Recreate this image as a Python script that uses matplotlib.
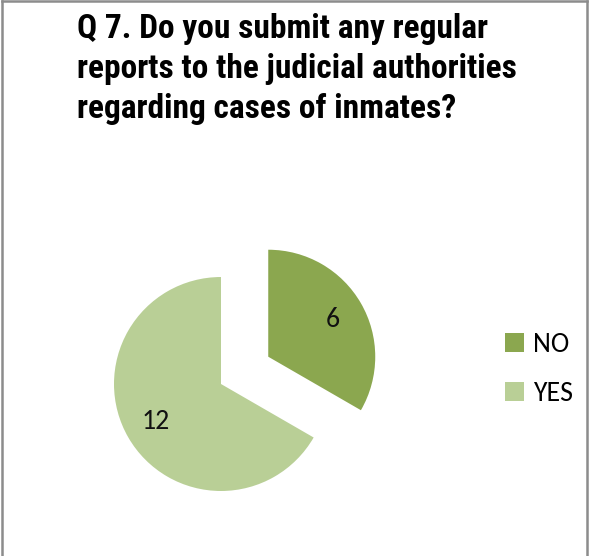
import matplotlib.pyplot as plt
from matplotlib.lines import Line2D
from matplotlib.patches import Patch

labels = ["NO", "YES"]
counts = [6, 12]
colors = ["#8ba74f", "#b9cf96"]
explode = [0.51, 0]

fig = plt.figure(figsize=(5.89, 5.56), dpi=100)

# thin grey frame round the chart area (left, top, right)
fig.add_artist(Line2D([0.003, 0.003], [0, 0.998], color="#8c8c8c", lw=1.8, transform=fig.transFigure))
fig.add_artist(Line2D([0.003, 0.996], [0.998, 0.998], color="#8c8c8c", lw=1.8, transform=fig.transFigure))
fig.add_artist(Line2D([0.996, 0.996], [0, 0.998], color="#8c8c8c", lw=1.8, transform=fig.transFigure))

fig.text(0.131, 0.977, "Q 7. Do you submit any regular\nreports to the judicial authorities\nregarding cases of inmates?",
         ha="left", va="top", fontsize=24, fontweight="bold",
         family=["Roboto Condensed", "DejaVu Sans"], linespacing=1.32)

ax = fig.add_axes([0.1027, 0.0207, 0.545, 0.5773])
total = sum(counts)
wedges, texts, autotexts = ax.pie(counts, colors=colors, explode=explode, startangle=90,
                                  counterclock=False,
                                  autopct=lambda p: f"{p * total / 100:.0f}",
                                  pctdistance=0.7,
                                  textprops=dict(fontsize=20, family=["Carlito", "DejaVu Sans"], color="#111111"))
ax.set_xlim(-1.5, 1.5)
ax.set_ylim(-1.5, 1.5)
ax.axis("off")

handles = [Patch(facecolor=c, edgecolor="none") for c in colors]
fig.legend(handles, labels, loc="center left", bbox_to_anchor=(0.815, 0.336),
           frameon=False, prop=dict(family=["Carlito", "DejaVu Sans"], size=20),
           handlelength=0.7, handleheight=0.7, handletextpad=0.3, labelspacing=0.85)

fig.savefig("out.png", dpi=100)
